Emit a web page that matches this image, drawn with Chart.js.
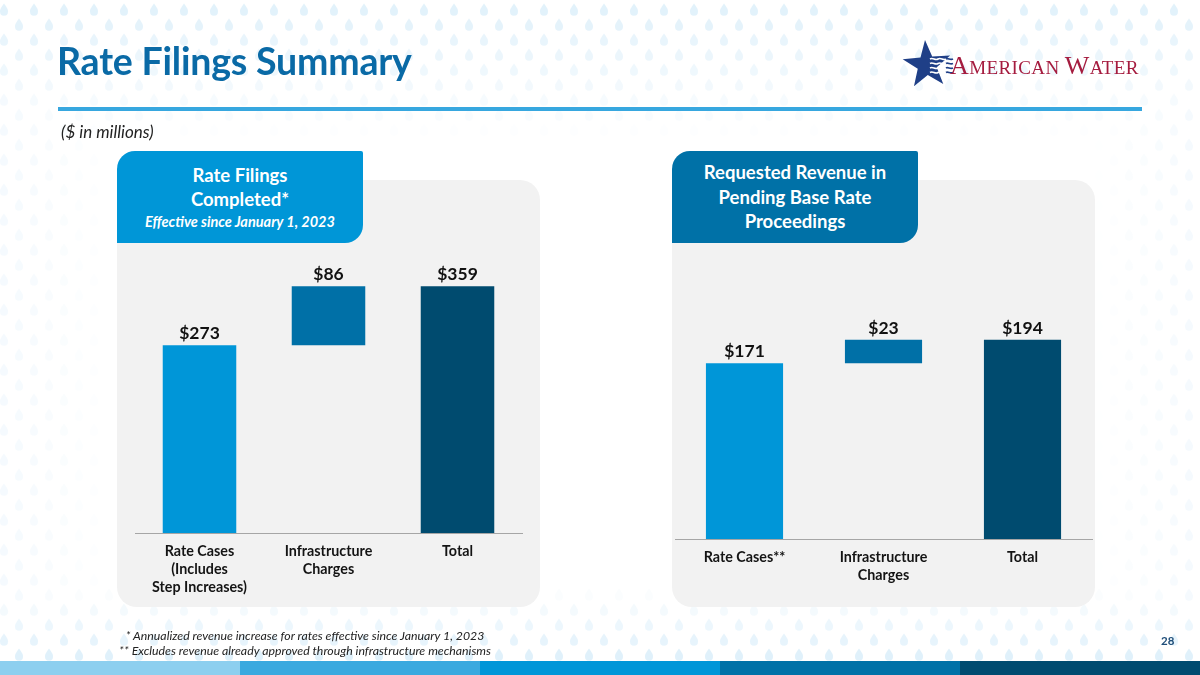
<!DOCTYPE html>
<html>
<head>
<meta charset="utf-8">
<script src="https://cdn.jsdelivr.net/npm/chart.js@4.4.1/dist/chart.umd.min.js"></script>
<style>
  html, body { margin: 0; padding: 0; }
  body { width: 1200px; height: 675px; position: relative; overflow: hidden; background: #fff; font-family: Lato, "Open Sans", sans-serif; }
  #drops { position: absolute; left: 0; top: 0; }
  .abs { position: absolute; }
  #title { left: 57px; top: 38px; font-size: 37.5px; font-weight: 700; color: #0a6aa6; letter-spacing: -0.2px; }
  #rule { left: 58px; top: 107px; width: 1084px; height: 4px; background: #37a7df; }
  #units { left: 61px; top: 121px; font-size: 17px; font-style: italic; color: #222; }
  .panel { background: #f2f2f2; border-radius: 20px; top: 180px; width: 423px; height: 427px; }
  .tab { top: 151px; width: 246px; height: 92px; color: #fff; font-weight: 700; text-align: center;
         border-radius: 18px 2px 18px 0; display: flex; flex-direction: column; justify-content: center; }
  .tab .big { font-size: 18.5px; line-height: 24.5px; }
  .tab .small { font-size: 14.5px; font-style: italic; line-height: 20px; }
  canvas.chart { position: absolute; }
  #notes { left: 105px; top: 628px; width: 400px; text-align: center; font-size: 12.3px; font-style: italic; color: #222; line-height: 15px; }
  #page { left: 1161px; top: 634px; font-size: 11.5px; font-weight: 700; color: #1f4e79; }
  .bar { top: 661px; height: 14px; width: 240px; }
  #logoText { left: 950px; top: 51px; font-family: "Liberation Serif", "DejaVu Serif", serif; color: #a51c3f; white-space: nowrap; letter-spacing: 0.4px; }
  #logoText .cap { font-size: 26px; }
  #logoText .sc { font-size: 19px; }
</style>
</head>
<body>
<canvas id="drops" width="1200" height="675"></canvas>

<div id="title" class="abs">Rate Filings Summary</div>
<canvas id="star" class="abs" width="60" height="60" style="left:897px; top:34px;"></canvas>
<div id="logoText" class="abs"><span class="cap">A</span><span class="sc">MERICAN </span><span class="cap">W</span><span class="sc">ATER</span></div>
<div id="rule" class="abs"></div>
<div id="units" class="abs">($ in millions)</div>

<div class="panel abs" style="left:117px;"></div>
<div class="panel abs" style="left:672px;"></div>
<div class="tab abs" style="left:117px; background:#0096d7;">
  <div class="big">Rate Filings</div>
  <div class="big">Completed*</div>
  <div class="small">Effective since January 1, 2023</div>
</div>
<div class="tab abs" style="left:672px; background:#0071a7;">
  <div class="big">Requested Revenue in</div>
  <div class="big">Pending Base Rate</div>
  <div class="big">Proceedings</div>
</div>

<canvas id="leftChart" class="chart" width="423" height="427" style="left:117px; top:180px;"></canvas>
<canvas id="rightChart" class="chart" width="423" height="427" style="left:672px; top:180px;"></canvas>

<div id="notes" class="abs">* Annualized revenue increase for rates effective since January 1, 2023<br>** Excludes revenue already approved through infrastructure mechanisms</div>
<div id="page" class="abs">28</div>

<div class="bar abs" style="left:0; background:#8dcfef;"></div>
<div class="bar abs" style="left:240px; background:#3aa9df;"></div>
<div class="bar abs" style="left:480px; background:#0096d8;"></div>
<div class="bar abs" style="left:720px; background:#0071a7;"></div>
<div class="bar abs" style="left:960px; background:#004b70;"></div>

<script>
// Chart data ($ in millions)
const completedLabels = [["Rate Cases", "(Includes", "Step Increases)"], ["Infrastructure", "Charges"], "Total"];
const completedValues = [273, 86, 359];

const pendingLabels = ["Rate Cases**", ["Infrastructure", "Charges"], "Total"];
const pendingValues = [171, 23, 194];

const barColors = ["#0096d8", "#0070a7", "#004b6f"];

// draw the faint water drops in the background
function DrawDrops(){
    const c = document.getElementById('drops').getContext('2d');
    for (let row = 0; row * 15 < 690; row++) {
        const y = 10 + row * 15;
        const shift = row % 2 ? 15 : 0;
        for (let x = shift + 4; x < 1215; x += 30) {
            let top = Math.max(0, 1 - y / 140);
            let bottom = Math.max(0, (y - 585) / 70);
            let side = Math.max(0, (x - 1090) / 110, (110 - x) / 110) * 0.35;
            let a = Math.min(1, Math.max(top, bottom, side));
            if (a <= 0.02) continue;
            c.fillStyle = "rgba(190, 225, 246," + (a * 0.48) + ")";
            c.beginPath();
            c.moveTo(x, y - 6.5);
            c.quadraticCurveTo(x + 4.6, y - 0.5, x + 4, y + 1.8);
            c.arc(x, y + 1.8, 4, 0, Math.PI);
            c.quadraticCurveTo(x - 4.6, y - 0.5, x, y - 6.5);
            c.fill();
        }
    }
}

// star of the logo
function DrawStar(){
    const c = document.getElementById('star').getContext('2d');
    const cx = 30, cy = 31, R = 25, r = 10;
    c.fillStyle = "#1f3f87";
    c.beginPath();
    for (let i = 0; i < 10; i++) {
        const ang = -Math.PI / 2 + i * Math.PI / 5 - 0.08;
        const rad = i % 2 ? r : R;
        c.lineTo(cx + rad * Math.cos(ang), cy + rad * Math.sin(ang));
    }
    c.closePath();
    c.fill();
    // waves
    c.lineWidth = 1.6;
    for (let k = 0; k < 4; k++) {
        const wy = 25 + k * 4.5;
        c.strokeStyle = "#ffffff";
        c.beginPath();
        c.moveTo(33, wy);
        c.bezierCurveTo(36, wy - 2, 38, wy + 2, 41, wy);
        c.bezierCurveTo(44, wy - 2, 46, wy + 2, 49, wy);
        c.stroke();
        c.strokeStyle = "#1f3f87";
        c.beginPath();
        c.moveTo(49, wy);
        c.bezierCurveTo(51, wy - 1.5, 53, wy + 1.5, 56, wy);
        c.stroke();
    }
}

// writes the $ value above every bar
const valueLabels = {
    id: 'valueLabels',
    afterDatasetsDraw(chart, args, opts) {
        const ctx = chart.ctx;
        const meta = chart.getDatasetMeta(0);
        ctx.save();
        ctx.font = "bold 17.5px Lato, 'Open Sans', sans-serif";
        ctx.fillStyle = "#111";
        ctx.textAlign = "center";
        ctx.textBaseline = "bottom";
        meta.data.forEach((bar, i) => {
            ctx.fillText("$" + opts.values[i], bar.x, bar.y - 3);
        });
        ctx.restore();
    }
};

// waterfall: first bar from zero, middle bar stacked on it, total from zero
function WaterfallRanges(values){
    return [[0, values[0]], [values[0], values[0] + values[1]], [0, values[2]]];
}

function MakeChart(id, labels, values, yMax, pad, axisHeight, barPct){
    return new Chart(document.getElementById(id).getContext('2d'), {
        type: 'bar',
        data: {
            labels: labels,
            datasets: [{
                data: WaterfallRanges(values),
                backgroundColor: barColors,
                borderWidth: 0,
                barPercentage: barPct,
                categoryPercentage: 1
            }]
        },
        plugins: [valueLabels],
        options: {
            responsive: false,
            animation: false,
            layout: { padding: pad },
            plugins: {
                legend: { display: false },
                tooltip: { enabled: false },
                valueLabels: { values: values }
            },
            scales: {
                x: {
                    grid: { display: false, drawTicks: false },
                    border: { display: true, color: "#a6a6a6", width: 1 },
                    ticks: {
                        color: "#141414",
                        padding: 10,
                        maxRotation: 0,
                        autoSkip: false,
                        font: { family: "Lato, 'Open Sans', sans-serif", size: 14.3, weight: "bold", lineHeight: 1.23 }
                    },
                    afterFit: scale => { scale.height = axisHeight; }
                },
                y: {
                    display: false,
                    min: 0,
                    max: yMax
                }
            }
        }
    });
}

DrawDrops();
DrawStar();
MakeChart('leftChart', completedLabels, completedValues, 400, { top: 78, left: 18, right: 18, bottom: 0 }, 74, 0.57);
MakeChart('rightChart', pendingLabels, pendingValues, 220, { top: 133, left: 3, right: 3, bottom: 0 }, 68, 0.555);
</script>
</body>
</html>
